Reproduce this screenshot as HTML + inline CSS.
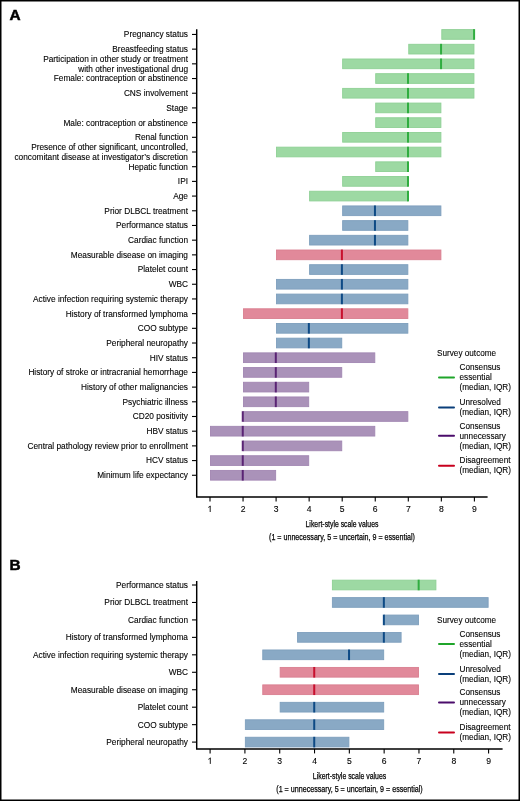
<!DOCTYPE html>
<html><head><meta charset="utf-8"><style>
html,body{margin:0;padding:0;background:#fff;}
body{width:520px;height:801px;overflow:hidden;}
svg{display:block;will-change:transform;}
text{font-family:"Liberation Sans", sans-serif;fill:#000;stroke:#000;stroke-width:0.1px;}
</style></head><body>
<svg width="520" height="801" viewBox="0 0 520 801">
<rect x="0" y="0" width="520" height="801" fill="#fff"/>
<rect x="0.75" y="0.75" width="518.5" height="799.5" fill="none" stroke="#000" stroke-width="1.5"/>
<text x="9.5" y="20.2" font-size="15.4" font-weight="bold" style="stroke-width:0.5px">A</text>
<text x="9.6" y="570.4" font-size="15.4" font-weight="bold" style="stroke-width:0.5px">B</text>
<rect x="441.8" y="29.6" width="32.15" height="9.7" fill="#9dd9a3" stroke="#8ed095" stroke-width="0.9"/>
<rect x="473.1" y="29.15" width="2" height="10.6" fill="#30ad40"/>
<rect x="408.75" y="44.29" width="65.2" height="9.7" fill="#9dd9a3" stroke="#8ed095" stroke-width="0.9"/>
<rect x="440.05" y="43.84" width="2" height="10.6" fill="#30ad40"/>
<rect x="342.65" y="58.99" width="131.3" height="9.7" fill="#9dd9a3" stroke="#8ed095" stroke-width="0.9"/>
<rect x="440.05" y="58.54" width="2" height="10.6" fill="#30ad40"/>
<rect x="375.7" y="73.68" width="98.25" height="9.7" fill="#9dd9a3" stroke="#8ed095" stroke-width="0.9"/>
<rect x="407" y="73.23" width="2" height="10.6" fill="#30ad40"/>
<rect x="342.65" y="88.38" width="131.3" height="9.7" fill="#9dd9a3" stroke="#8ed095" stroke-width="0.9"/>
<rect x="407" y="87.93" width="2" height="10.6" fill="#30ad40"/>
<rect x="375.7" y="103.07" width="65.2" height="9.7" fill="#9dd9a3" stroke="#8ed095" stroke-width="0.9"/>
<rect x="407" y="102.62" width="2" height="10.6" fill="#30ad40"/>
<rect x="375.7" y="117.76" width="65.2" height="9.7" fill="#9dd9a3" stroke="#8ed095" stroke-width="0.9"/>
<rect x="407" y="117.31" width="2" height="10.6" fill="#30ad40"/>
<rect x="342.65" y="132.46" width="98.25" height="9.7" fill="#9dd9a3" stroke="#8ed095" stroke-width="0.9"/>
<rect x="407" y="132.01" width="2" height="10.6" fill="#30ad40"/>
<rect x="276.55" y="147.15" width="164.35" height="9.7" fill="#9dd9a3" stroke="#8ed095" stroke-width="0.9"/>
<rect x="407" y="146.7" width="2" height="10.6" fill="#30ad40"/>
<rect x="375.7" y="161.85" width="32.15" height="9.7" fill="#9dd9a3" stroke="#8ed095" stroke-width="0.9"/>
<rect x="407" y="161.4" width="2" height="10.6" fill="#30ad40"/>
<rect x="342.65" y="176.54" width="65.2" height="9.7" fill="#9dd9a3" stroke="#8ed095" stroke-width="0.9"/>
<rect x="407" y="176.09" width="2" height="10.6" fill="#30ad40"/>
<rect x="309.6" y="191.23" width="98.25" height="9.7" fill="#9dd9a3" stroke="#8ed095" stroke-width="0.9"/>
<rect x="407" y="190.78" width="2" height="10.6" fill="#30ad40"/>
<rect x="342.65" y="205.93" width="98.25" height="9.7" fill="#89a9c5" stroke="#7e9fbd" stroke-width="0.9"/>
<rect x="373.95" y="205.48" width="2" height="10.6" fill="#0e4a85"/>
<rect x="342.65" y="220.62" width="65.2" height="9.7" fill="#89a9c5" stroke="#7e9fbd" stroke-width="0.9"/>
<rect x="373.95" y="220.17" width="2" height="10.6" fill="#0e4a85"/>
<rect x="309.6" y="235.32" width="98.25" height="9.7" fill="#89a9c5" stroke="#7e9fbd" stroke-width="0.9"/>
<rect x="373.95" y="234.87" width="2" height="10.6" fill="#0e4a85"/>
<rect x="276.55" y="250.01" width="164.35" height="9.7" fill="#e1899a" stroke="#d97f90" stroke-width="0.9"/>
<rect x="340.9" y="249.56" width="2" height="10.6" fill="#c8102e"/>
<rect x="309.6" y="264.7" width="98.25" height="9.7" fill="#89a9c5" stroke="#7e9fbd" stroke-width="0.9"/>
<rect x="340.9" y="264.25" width="2" height="10.6" fill="#0e4a85"/>
<rect x="276.55" y="279.4" width="131.3" height="9.7" fill="#89a9c5" stroke="#7e9fbd" stroke-width="0.9"/>
<rect x="340.9" y="278.95" width="2" height="10.6" fill="#0e4a85"/>
<rect x="276.55" y="294.09" width="131.3" height="9.7" fill="#89a9c5" stroke="#7e9fbd" stroke-width="0.9"/>
<rect x="340.9" y="293.64" width="2" height="10.6" fill="#0e4a85"/>
<rect x="243.5" y="308.79" width="164.35" height="9.7" fill="#e1899a" stroke="#d97f90" stroke-width="0.9"/>
<rect x="340.9" y="308.34" width="2" height="10.6" fill="#c8102e"/>
<rect x="276.55" y="323.48" width="131.3" height="9.7" fill="#89a9c5" stroke="#7e9fbd" stroke-width="0.9"/>
<rect x="307.85" y="323.03" width="2" height="10.6" fill="#0e4a85"/>
<rect x="276.55" y="338.17" width="65.2" height="9.7" fill="#89a9c5" stroke="#7e9fbd" stroke-width="0.9"/>
<rect x="307.85" y="337.72" width="2" height="10.6" fill="#0e4a85"/>
<rect x="243.5" y="352.87" width="131.3" height="9.7" fill="#aa92b9" stroke="#a287b2" stroke-width="0.9"/>
<rect x="274.8" y="352.42" width="2" height="10.6" fill="#5a2474"/>
<rect x="243.5" y="367.56" width="98.25" height="9.7" fill="#aa92b9" stroke="#a287b2" stroke-width="0.9"/>
<rect x="274.8" y="367.11" width="2" height="10.6" fill="#5a2474"/>
<rect x="243.5" y="382.26" width="65.2" height="9.7" fill="#aa92b9" stroke="#a287b2" stroke-width="0.9"/>
<rect x="274.8" y="381.81" width="2" height="10.6" fill="#5a2474"/>
<rect x="243.5" y="396.95" width="65.2" height="9.7" fill="#aa92b9" stroke="#a287b2" stroke-width="0.9"/>
<rect x="274.8" y="396.5" width="2" height="10.6" fill="#5a2474"/>
<rect x="243.5" y="411.64" width="164.35" height="9.7" fill="#aa92b9" stroke="#a287b2" stroke-width="0.9"/>
<rect x="241.75" y="411.19" width="2" height="10.6" fill="#5a2474"/>
<rect x="210.45" y="426.34" width="164.35" height="9.7" fill="#aa92b9" stroke="#a287b2" stroke-width="0.9"/>
<rect x="241.75" y="425.89" width="2" height="10.6" fill="#5a2474"/>
<rect x="243.5" y="441.03" width="98.25" height="9.7" fill="#aa92b9" stroke="#a287b2" stroke-width="0.9"/>
<rect x="241.75" y="440.58" width="2" height="10.6" fill="#5a2474"/>
<rect x="210.45" y="455.73" width="98.25" height="9.7" fill="#aa92b9" stroke="#a287b2" stroke-width="0.9"/>
<rect x="241.75" y="455.28" width="2" height="10.6" fill="#5a2474"/>
<rect x="210.45" y="470.42" width="65.2" height="9.7" fill="#aa92b9" stroke="#a287b2" stroke-width="0.9"/>
<rect x="241.75" y="469.97" width="2" height="10.6" fill="#5a2474"/>
<path d="M196.7 29.2V497H487.6" fill="none" stroke="#000" stroke-width="1.45"/>
<path d="M192 34.45H196.7" stroke="#000" stroke-width="1.1"/>
<text x="188" y="37.35" text-anchor="end" font-size="8.7" textLength="64.13" lengthAdjust="spacingAndGlyphs">Pregnancy status</text>
<path d="M192 49.14H196.7" stroke="#000" stroke-width="1.1"/>
<text x="188" y="52.04" text-anchor="end" font-size="8.7" textLength="75.67" lengthAdjust="spacingAndGlyphs">Breastfeeding status</text>
<path d="M192 63.84H196.7" stroke="#000" stroke-width="1.1"/>
<text x="188" y="61.74" text-anchor="end" font-size="8.7" textLength="144.86" lengthAdjust="spacingAndGlyphs">Participation in other study or treatment</text>
<text x="188" y="71.74" text-anchor="end" font-size="8.7" textLength="109.81" lengthAdjust="spacingAndGlyphs">with other investigational drug</text>
<path d="M192 78.53H196.7" stroke="#000" stroke-width="1.1"/>
<text x="188" y="81.43" text-anchor="end" font-size="8.7" textLength="134.26" lengthAdjust="spacingAndGlyphs">Female: contraception or abstinence</text>
<path d="M192 93.23H196.7" stroke="#000" stroke-width="1.1"/>
<text x="188" y="96.13" text-anchor="end" font-size="8.7" textLength="64.12" lengthAdjust="spacingAndGlyphs">CNS involvement</text>
<path d="M192 107.92H196.7" stroke="#000" stroke-width="1.1"/>
<text x="188" y="110.82" text-anchor="end" font-size="8.7" textLength="21.69" lengthAdjust="spacingAndGlyphs">Stage</text>
<path d="M192 122.61H196.7" stroke="#000" stroke-width="1.1"/>
<text x="188" y="125.51" text-anchor="end" font-size="8.7" textLength="124.57" lengthAdjust="spacingAndGlyphs">Male: contraception or abstinence</text>
<path d="M192 137.31H196.7" stroke="#000" stroke-width="1.1"/>
<text x="188" y="140.21" text-anchor="end" font-size="8.7" textLength="53.06" lengthAdjust="spacingAndGlyphs">Renal function</text>
<path d="M192 152H196.7" stroke="#000" stroke-width="1.1"/>
<text x="188" y="149.9" text-anchor="end" font-size="8.7" textLength="156.87" lengthAdjust="spacingAndGlyphs">Presence of other significant, uncontrolled,</text>
<text x="188" y="159.9" text-anchor="end" font-size="8.7" textLength="173.62" lengthAdjust="spacingAndGlyphs">concomitant disease at investigator’s discretion</text>
<path d="M192 166.7H196.7" stroke="#000" stroke-width="1.1"/>
<text x="188" y="169.6" text-anchor="end" font-size="8.7" textLength="59.52" lengthAdjust="spacingAndGlyphs">Hepatic function</text>
<path d="M192 181.39H196.7" stroke="#000" stroke-width="1.1"/>
<text x="188" y="184.29" text-anchor="end" font-size="8.7" textLength="10.15" lengthAdjust="spacingAndGlyphs">IPI</text>
<path d="M192 196.08H196.7" stroke="#000" stroke-width="1.1"/>
<text x="188" y="198.98" text-anchor="end" font-size="8.7" textLength="14.77" lengthAdjust="spacingAndGlyphs">Age</text>
<path d="M192 210.78H196.7" stroke="#000" stroke-width="1.1"/>
<text x="188" y="213.68" text-anchor="end" font-size="8.7" textLength="83.64" lengthAdjust="spacingAndGlyphs">Prior DLBCL treatment</text>
<path d="M192 225.47H196.7" stroke="#000" stroke-width="1.1"/>
<text x="188" y="228.37" text-anchor="end" font-size="8.7" textLength="71.96" lengthAdjust="spacingAndGlyphs">Performance status</text>
<path d="M192 240.17H196.7" stroke="#000" stroke-width="1.1"/>
<text x="188" y="243.07" text-anchor="end" font-size="8.7" textLength="59.98" lengthAdjust="spacingAndGlyphs">Cardiac function</text>
<path d="M192 254.86H196.7" stroke="#000" stroke-width="1.1"/>
<text x="188" y="257.76" text-anchor="end" font-size="8.7" textLength="117.19" lengthAdjust="spacingAndGlyphs">Measurable disease on imaging</text>
<path d="M192 269.55H196.7" stroke="#000" stroke-width="1.1"/>
<text x="188" y="272.45" text-anchor="end" font-size="8.7" textLength="50.29" lengthAdjust="spacingAndGlyphs">Platelet count</text>
<path d="M192 284.25H196.7" stroke="#000" stroke-width="1.1"/>
<text x="188" y="287.15" text-anchor="end" font-size="8.7" textLength="19.36" lengthAdjust="spacingAndGlyphs">WBC</text>
<path d="M192 298.94H196.7" stroke="#000" stroke-width="1.1"/>
<text x="188" y="301.84" text-anchor="end" font-size="8.7" textLength="155" lengthAdjust="spacingAndGlyphs">Active infection requiring systemic therapy</text>
<path d="M192 313.64H196.7" stroke="#000" stroke-width="1.1"/>
<text x="188" y="316.54" text-anchor="end" font-size="8.7" textLength="122.24" lengthAdjust="spacingAndGlyphs">History of transformed lymphoma</text>
<path d="M192 328.33H196.7" stroke="#000" stroke-width="1.1"/>
<text x="188" y="331.23" text-anchor="end" font-size="8.7" textLength="50.28" lengthAdjust="spacingAndGlyphs">COO subtype</text>
<path d="M192 343.02H196.7" stroke="#000" stroke-width="1.1"/>
<text x="188" y="345.92" text-anchor="end" font-size="8.7" textLength="81.67" lengthAdjust="spacingAndGlyphs">Peripheral neuropathy</text>
<path d="M192 357.72H196.7" stroke="#000" stroke-width="1.1"/>
<text x="188" y="360.62" text-anchor="end" font-size="8.7" textLength="38.29" lengthAdjust="spacingAndGlyphs">HIV status</text>
<path d="M192 372.41H196.7" stroke="#000" stroke-width="1.1"/>
<text x="188" y="375.31" text-anchor="end" font-size="8.7" textLength="159.61" lengthAdjust="spacingAndGlyphs">History of stroke or intracranial hemorrhage</text>
<path d="M192 387.11H196.7" stroke="#000" stroke-width="1.1"/>
<text x="188" y="390.01" text-anchor="end" font-size="8.7" textLength="107.03" lengthAdjust="spacingAndGlyphs">History of other malignancies</text>
<path d="M192 401.8H196.7" stroke="#000" stroke-width="1.1"/>
<text x="188" y="404.7" text-anchor="end" font-size="8.7" textLength="65.5" lengthAdjust="spacingAndGlyphs">Psychiatric illness</text>
<path d="M192 416.49H196.7" stroke="#000" stroke-width="1.1"/>
<text x="188" y="419.39" text-anchor="end" font-size="8.7" textLength="55.35" lengthAdjust="spacingAndGlyphs">CD20 positivity</text>
<path d="M192 431.19H196.7" stroke="#000" stroke-width="1.1"/>
<text x="188" y="434.09" text-anchor="end" font-size="8.7" textLength="41.52" lengthAdjust="spacingAndGlyphs">HBV status</text>
<path d="M192 445.88H196.7" stroke="#000" stroke-width="1.1"/>
<text x="188" y="448.78" text-anchor="end" font-size="8.7" textLength="160.55" lengthAdjust="spacingAndGlyphs">Central pathology review prior to enrollment</text>
<path d="M192 460.58H196.7" stroke="#000" stroke-width="1.1"/>
<text x="188" y="463.48" text-anchor="end" font-size="8.7" textLength="41.97" lengthAdjust="spacingAndGlyphs">HCV status</text>
<path d="M192 475.27H196.7" stroke="#000" stroke-width="1.1"/>
<text x="188" y="478.17" text-anchor="end" font-size="8.7" textLength="90.87" lengthAdjust="spacingAndGlyphs">Minimum life expectancy</text>
<path d="M210 497V501.5" stroke="#000" stroke-width="1.1"/>
<path d="M208.3 507.4Q209.8 507.1 210.2 505.9V512" fill="none" stroke="#111" stroke-width="0.95"/>
<path d="M243.05 497V501.5" stroke="#000" stroke-width="1.1"/>
<text x="243.05" y="511.6" text-anchor="middle" font-size="8.6">2</text>
<path d="M276.1 497V501.5" stroke="#000" stroke-width="1.1"/>
<text x="276.1" y="511.6" text-anchor="middle" font-size="8.6">3</text>
<path d="M309.15 497V501.5" stroke="#000" stroke-width="1.1"/>
<text x="309.15" y="511.6" text-anchor="middle" font-size="8.6">4</text>
<path d="M342.2 497V501.5" stroke="#000" stroke-width="1.1"/>
<text x="342.2" y="511.6" text-anchor="middle" font-size="8.6">5</text>
<path d="M375.25 497V501.5" stroke="#000" stroke-width="1.1"/>
<text x="375.25" y="511.6" text-anchor="middle" font-size="8.6">6</text>
<path d="M408.3 497V501.5" stroke="#000" stroke-width="1.1"/>
<text x="408.3" y="511.6" text-anchor="middle" font-size="8.6">7</text>
<path d="M441.35 497V501.5" stroke="#000" stroke-width="1.1"/>
<text x="441.35" y="511.6" text-anchor="middle" font-size="8.6">8</text>
<path d="M474.4 497V501.5" stroke="#000" stroke-width="1.1"/>
<text x="474.4" y="511.6" text-anchor="middle" font-size="8.6">9</text>
<text x="342" y="527.3" text-anchor="middle" font-size="9.4" style="stroke-width:0.25px" textLength="72.9" lengthAdjust="spacingAndGlyphs">Likert-style scale values</text>
<text x="342" y="539.6" text-anchor="middle" font-size="9.4" style="stroke-width:0.25px" textLength="145.9" lengthAdjust="spacingAndGlyphs">(1 = unnecessary, 5 = uncertain, 9 = essential)</text>
<g font-size="8.2">
<text x="437" y="355.8">Survey outcome</text>
<path d="M439 377.4H454" stroke="#1fa52a" stroke-width="2" stroke-linecap="round"/>
<text x="459.5" y="370">Consensus</text>
<text x="459.5" y="380">essential</text>
<text x="459.5" y="390">(median, IQR)</text>
<path d="M439 407.4H454" stroke="#0a3f7a" stroke-width="2" stroke-linecap="round"/>
<text x="459.5" y="404.8">Unresolved</text>
<text x="459.5" y="414.8">(median, IQR)</text>
<path d="M439 435.8H454" stroke="#4b0c6b" stroke-width="2" stroke-linecap="round"/>
<text x="459.5" y="428.7">Consensus</text>
<text x="459.5" y="438.7">unnecessary</text>
<text x="459.5" y="448.7">(median, IQR)</text>
<path d="M439 465.7H454" stroke="#c8001e" stroke-width="2" stroke-linecap="round"/>
<text x="459.5" y="463">Disagreement</text>
<text x="459.5" y="473">(median, IQR)</text>
</g>
<rect x="332.38" y="580.15" width="103.53" height="9.7" fill="#9dd9a3" stroke="#8ed095" stroke-width="0.9"/>
<rect x="417.66" y="579.7" width="2" height="10.6" fill="#30ad40"/>
<rect x="332.38" y="597.61" width="155.75" height="9.7" fill="#89a9c5" stroke="#7e9fbd" stroke-width="0.9"/>
<rect x="382.85" y="597.16" width="2" height="10.6" fill="#0e4a85"/>
<rect x="384.6" y="615.06" width="33.91" height="9.7" fill="#89a9c5" stroke="#7e9fbd" stroke-width="0.9"/>
<rect x="382.85" y="614.61" width="2" height="10.6" fill="#0e4a85"/>
<rect x="297.57" y="632.52" width="103.53" height="9.7" fill="#89a9c5" stroke="#7e9fbd" stroke-width="0.9"/>
<rect x="382.85" y="632.07" width="2" height="10.6" fill="#0e4a85"/>
<rect x="262.76" y="649.97" width="120.93" height="9.7" fill="#89a9c5" stroke="#7e9fbd" stroke-width="0.9"/>
<rect x="348.04" y="649.52" width="2" height="10.6" fill="#0e4a85"/>
<rect x="280.17" y="667.43" width="138.34" height="9.7" fill="#e1899a" stroke="#d97f90" stroke-width="0.9"/>
<rect x="313.23" y="666.98" width="2" height="10.6" fill="#c8102e"/>
<rect x="262.76" y="684.89" width="155.75" height="9.7" fill="#e1899a" stroke="#d97f90" stroke-width="0.9"/>
<rect x="313.23" y="684.44" width="2" height="10.6" fill="#c8102e"/>
<rect x="280.17" y="702.34" width="103.53" height="9.7" fill="#89a9c5" stroke="#7e9fbd" stroke-width="0.9"/>
<rect x="313.23" y="701.89" width="2" height="10.6" fill="#0e4a85"/>
<rect x="245.36" y="719.8" width="138.34" height="9.7" fill="#89a9c5" stroke="#7e9fbd" stroke-width="0.9"/>
<rect x="313.23" y="719.35" width="2" height="10.6" fill="#0e4a85"/>
<rect x="245.36" y="737.25" width="103.53" height="9.7" fill="#89a9c5" stroke="#7e9fbd" stroke-width="0.9"/>
<rect x="313.23" y="736.8" width="2" height="10.6" fill="#0e4a85"/>
<path d="M196.7 581V748.9H502.6" fill="none" stroke="#000" stroke-width="1.45"/>
<path d="M192 585H196.7" stroke="#000" stroke-width="1.1"/>
<text x="188" y="587.9" text-anchor="end" font-size="8.7" textLength="71.96" lengthAdjust="spacingAndGlyphs">Performance status</text>
<path d="M192 602.46H196.7" stroke="#000" stroke-width="1.1"/>
<text x="188" y="605.36" text-anchor="end" font-size="8.7" textLength="83.64" lengthAdjust="spacingAndGlyphs">Prior DLBCL treatment</text>
<path d="M192 619.91H196.7" stroke="#000" stroke-width="1.1"/>
<text x="188" y="622.81" text-anchor="end" font-size="8.7" textLength="59.98" lengthAdjust="spacingAndGlyphs">Cardiac function</text>
<path d="M192 637.37H196.7" stroke="#000" stroke-width="1.1"/>
<text x="188" y="640.27" text-anchor="end" font-size="8.7" textLength="122.24" lengthAdjust="spacingAndGlyphs">History of transformed lymphoma</text>
<path d="M192 654.82H196.7" stroke="#000" stroke-width="1.1"/>
<text x="188" y="657.72" text-anchor="end" font-size="8.7" textLength="155" lengthAdjust="spacingAndGlyphs">Active infection requiring systemic therapy</text>
<path d="M192 672.28H196.7" stroke="#000" stroke-width="1.1"/>
<text x="188" y="675.18" text-anchor="end" font-size="8.7" textLength="19.36" lengthAdjust="spacingAndGlyphs">WBC</text>
<path d="M192 689.74H196.7" stroke="#000" stroke-width="1.1"/>
<text x="188" y="692.64" text-anchor="end" font-size="8.7" textLength="117.19" lengthAdjust="spacingAndGlyphs">Measurable disease on imaging</text>
<path d="M192 707.19H196.7" stroke="#000" stroke-width="1.1"/>
<text x="188" y="710.09" text-anchor="end" font-size="8.7" textLength="50.29" lengthAdjust="spacingAndGlyphs">Platelet count</text>
<path d="M192 724.65H196.7" stroke="#000" stroke-width="1.1"/>
<text x="188" y="727.55" text-anchor="end" font-size="8.7" textLength="50.28" lengthAdjust="spacingAndGlyphs">COO subtype</text>
<path d="M192 742.1H196.7" stroke="#000" stroke-width="1.1"/>
<text x="188" y="745" text-anchor="end" font-size="8.7" textLength="81.67" lengthAdjust="spacingAndGlyphs">Peripheral neuropathy</text>
<path d="M210.1 748.9V753.4" stroke="#000" stroke-width="1.1"/>
<path d="M208.4 759.3Q209.9 759 210.3 757.8V763.9" fill="none" stroke="#111" stroke-width="0.95"/>
<path d="M244.91 748.9V753.4" stroke="#000" stroke-width="1.1"/>
<text x="244.91" y="763.5" text-anchor="middle" font-size="8.6">2</text>
<path d="M279.72 748.9V753.4" stroke="#000" stroke-width="1.1"/>
<text x="279.72" y="763.5" text-anchor="middle" font-size="8.6">3</text>
<path d="M314.53 748.9V753.4" stroke="#000" stroke-width="1.1"/>
<text x="314.53" y="763.5" text-anchor="middle" font-size="8.6">4</text>
<path d="M349.34 748.9V753.4" stroke="#000" stroke-width="1.1"/>
<text x="349.34" y="763.5" text-anchor="middle" font-size="8.6">5</text>
<path d="M384.15 748.9V753.4" stroke="#000" stroke-width="1.1"/>
<text x="384.15" y="763.5" text-anchor="middle" font-size="8.6">6</text>
<path d="M418.96 748.9V753.4" stroke="#000" stroke-width="1.1"/>
<text x="418.96" y="763.5" text-anchor="middle" font-size="8.6">7</text>
<path d="M453.77 748.9V753.4" stroke="#000" stroke-width="1.1"/>
<text x="453.77" y="763.5" text-anchor="middle" font-size="8.6">8</text>
<path d="M488.58 748.9V753.4" stroke="#000" stroke-width="1.1"/>
<text x="488.58" y="763.5" text-anchor="middle" font-size="8.6">9</text>
<text x="349.5" y="779.2" text-anchor="middle" font-size="9.4" style="stroke-width:0.25px" textLength="73.4" lengthAdjust="spacingAndGlyphs">Likert-style scale values</text>
<text x="349.5" y="791.5" text-anchor="middle" font-size="9.4" style="stroke-width:0.25px" textLength="146.4" lengthAdjust="spacingAndGlyphs">(1 = unnecessary, 5 = uncertain, 9 = essential)</text>
<g font-size="8.2">
<text x="437" y="622.5">Survey outcome</text>
<path d="M439 644.1H454" stroke="#1fa52a" stroke-width="2" stroke-linecap="round"/>
<text x="459.5" y="636.7">Consensus</text>
<text x="459.5" y="646.7">essential</text>
<text x="459.5" y="656.7">(median, IQR)</text>
<path d="M439 674.1H454" stroke="#0a3f7a" stroke-width="2" stroke-linecap="round"/>
<text x="459.5" y="671.5">Unresolved</text>
<text x="459.5" y="681.5">(median, IQR)</text>
<path d="M439 702.5H454" stroke="#4b0c6b" stroke-width="2" stroke-linecap="round"/>
<text x="459.5" y="695.4">Consensus</text>
<text x="459.5" y="705.4">unnecessary</text>
<text x="459.5" y="715.4">(median, IQR)</text>
<path d="M439 732.4H454" stroke="#c8001e" stroke-width="2" stroke-linecap="round"/>
<text x="459.5" y="729.7">Disagreement</text>
<text x="459.5" y="739.7">(median, IQR)</text>
</g>
</svg>
</body></html>
